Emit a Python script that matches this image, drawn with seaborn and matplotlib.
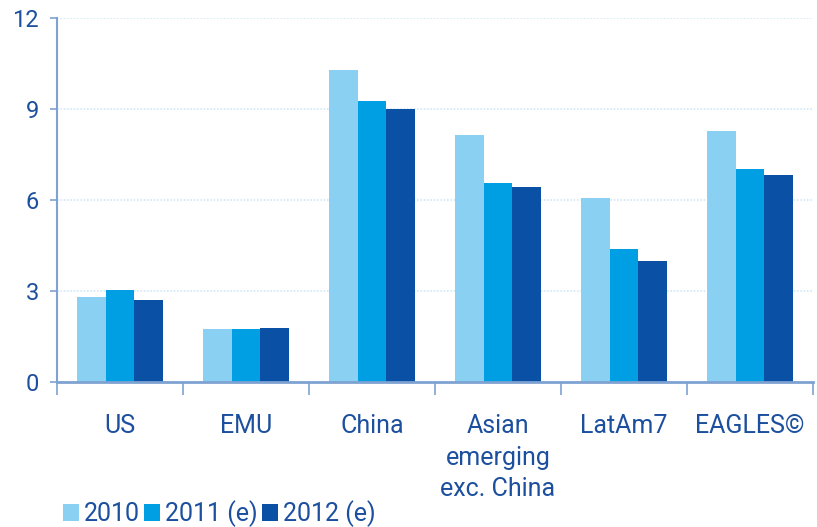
import matplotlib
matplotlib.use("Agg")
import matplotlib.pyplot as plt
import seaborn as sns
import pandas as pd
from matplotlib.ticker import FixedLocator

# GDP growth by region, %
regions = ["US", "EMU", "China", "Asian\nemerging\nexc. China", "LatAm7", "EAGLES©"]
series = ["2010", "2011 (e)", "2012 (e)"]
growth_2010 = [2.8, 1.75, 10.3, 8.15, 6.05, 8.28]
growth_2011 = [3.05, 1.75, 9.27, 6.57, 4.38, 7.03]
growth_2012 = [2.7, 1.78, 9.0, 6.43, 4.0, 6.83]
yticks = [0, 3, 6, 9, 12]

palette = ["#89d0f2", "#009fe3", "#0a50a5"]
text_blue = "#1c4f9e"
axis_blue = "#7ea2d2"

df = pd.DataFrame({
    "region": regions * 3,
    "year": [s for s in series for _ in regions],
    "growth": growth_2010 + growth_2011 + growth_2012,
})

sns.set_theme(style="white")
plt.rcParams["font.family"] = ["Roboto", "DejaVu Sans"]

fig = plt.figure(figsize=(8.17, 5.27), dpi=100)
ax = fig.add_axes([0.070, 0.275, 0.925, 0.691])

sns.barplot(data=df, x="region", y="growth", hue="year", order=regions,
            hue_order=series, palette=palette, width=0.68, gap=0,
            saturation=1, linewidth=0, ax=ax)

ax.set_ylim(0, 12)
ax.set_xlim(-0.5, len(regions) - 0.5)
ax.set_yticks(yticks)
ax.set_yticklabels([str(t) for t in yticks])
ax.yaxis.grid(True, color="#cfe9f7", linestyle=(0, (1, 1)), linewidth=1.2)
ax.set_axisbelow(True)

# Category separators as downward tick marks on the x axis
ax.xaxis.set_minor_locator(FixedLocator([i - 0.5 for i in range(len(regions) + 1)]))
ax.tick_params(axis="x", which="minor", direction="out", length=9, width=1.2,
               color=axis_blue, bottom=True)
ax.tick_params(axis="x", which="major", length=0, pad=23,
               labelsize=18, labelcolor=text_blue)
ax.tick_params(axis="y", direction="out", length=5, width=1.2, color=axis_blue,
               left=True, labelsize=17, labelcolor=text_blue, pad=8)

for side in ["top", "right"]:
    ax.spines[side].set_visible(False)
ax.spines["left"].set_color(axis_blue)
ax.spines["left"].set_linewidth(1.5)
ax.spines["bottom"].set_color(axis_blue)
ax.spines["bottom"].set_linewidth(2)

for lbl in ax.get_xticklabels():
    lbl.set_verticalalignment("top")
    lbl.set_linespacing(1.4)

ax.set_xlabel("")
ax.set_ylabel("")

leg = ax.legend(loc="lower left", bbox_to_anchor=(0.077, 0.0),
                bbox_transform=fig.transFigure, ncol=3, frameon=False,
                fontsize=18, handlelength=0.65, handleheight=0.7,
                handletextpad=0.2, columnspacing=0.15, borderpad=0,
                borderaxespad=0)
for t in leg.get_texts():
    t.set_color(text_blue)

fig.savefig("out.png", dpi=100)
